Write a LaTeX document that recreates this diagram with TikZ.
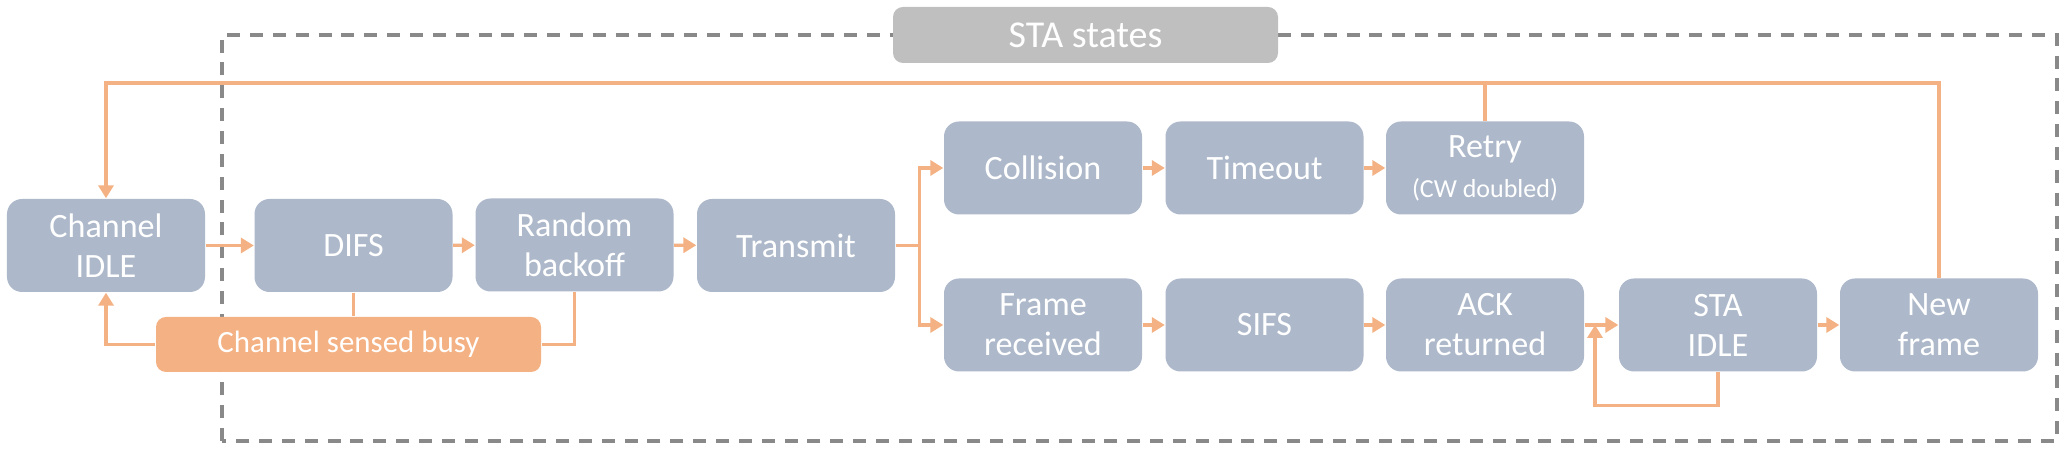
\documentclass[tikz,border=0pt]{standalone}
\usepackage{fontspec}
\setmainfont{Carlito}
\usepackage{tikz}
\usepackage{xcolor}
\usetikzlibrary{arrows.meta}
\definecolor{boxblue}{HTML}{ADB9CA}
\definecolor{linkorange}{HTML}{F4B183}
\definecolor{framegray}{HTML}{898989}
\definecolor{titlegray}{HTML}{BFBFBF}

\begin{document}
\begin{tikzpicture}[
state/.style={shape=rectangle,rounded corners=0.15cm,fill=boxblue,text=white,minimum width=1.98cm,minimum height=0.93cm,inner sep=0pt,align=center,font=\fontsize{9.7}{11.4}\selectfont},
link/.style={draw=linkorange,line width=0.9pt},
arr/.style={link,-{Triangle[length=3.7pt,width=4.3pt]}}]
\useasboundingbox (0,0) rectangle (20.66,4.51);
\draw[framegray,line width=1.1pt,dash pattern=on 3.7pt off 2.8pt](2.22,0.10) rectangle (20.57,4.16);
\node[state,fill=titlegray,minimum width=3.85cm,minimum height=0.56cm,rounded corners=0.1cm,font=\fontsize{10.8}{12}\selectfont] (title) at (10.855,4.16) {STA states};
\node[state] (idle) at (1.06,2.055) {Channel\\IDLE};
\node[state] (difs) at (3.535,2.055) {DIFS};
\node[state] (backoff) at (5.745,2.06) {Random\\backoff};
\node[state] (transmit) at (7.96,2.055) {Transmit};
\node[state] (collision) at (10.43,2.83) {Collision};
\node[state] (timeout) at (12.645,2.83) {Timeout};
\node[state] (retry) at (14.85,2.83) {Retry\\{\fontsize{7.4}{9}\selectfont(CW doubled)}};
\node[state] (framerx) at (10.43,1.26) {Frame\\received};
\node[state] (sifs) at (12.645,1.26) {SIFS};
\node[state] (ack) at (14.85,1.26) {ACK\\returned};
\node[state] (staidle) at (17.18,1.26) {STA\\IDLE};
\node[state] (newframe) at (19.39,1.26) {New\\frame};
\node[state,fill=linkorange,minimum width=3.85cm,minimum height=0.55cm,rounded corners=0.1cm,font=\fontsize{8.8}{10}\selectfont] (busy) at (3.485,1.065) {Channel sensed busy};
\coordinate (top) at (0,3.68);
\coordinate (join) at (15.95,1.26);
\draw[arr](idle)--(difs);
\draw[arr](difs)--(backoff);
\draw[arr](backoff)--(transmit);
\draw[arr](transmit.east)--++(0.24,0)|-(collision.west);
\draw[arr](transmit.east)--++(0.24,0)|-(framerx.west);
\draw[arr](collision)--(timeout);
\draw[arr](timeout)--(retry);
\draw[arr](framerx)--(sifs);
\draw[arr](sifs)--(ack);
\draw[arr](ack)--(staidle);
\draw[arr](staidle)--(newframe);
\draw[arr](staidle.south)--++(0,-0.33)-|(join);
\draw[link](difs.south)--(difs.south|-busy.north);
\draw[link](backoff.south)|-(busy.east);
\draw[arr](busy.west)-|(idle.south);
\draw[link](retry.north)--(retry.north|-top);
\draw[arr](newframe.north)--(newframe.north|-top)--(idle.north|-top)--(idle.north);
\end{tikzpicture}
\end{document}
